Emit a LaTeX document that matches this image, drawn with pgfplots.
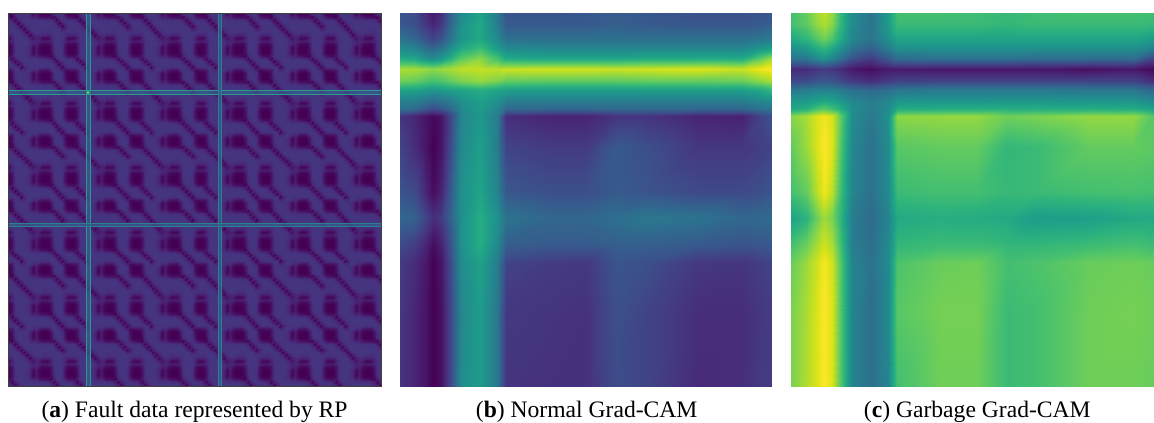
\documentclass[border=0pt]{standalone}
\usepackage{fontspec}
\setmainfont{Liberation Serif}
\usepackage{pgfplots}
\usepackage{pgfplotstable}
\pgfplotsset{compat=1.18}
\pgfplotstableread[row sep=\\,header=false]{
0\\.11\\.17\\.19\\.19\\.19\\.18\\.18\\.18\\.18\\.19\\.19\\.19\\.10\\.12\\.18\\.18\\.18\\.19\\.19\\.17\\.11\\0\\
.11\\0\\.11\\.17\\.19\\.19\\.17\\.17\\.17\\.18\\.19\\.19\\.19\\.19\\.17\\.17\\.17\\.17\\.18\\.19\\.19\\.17\\.11\\
.17\\.11\\0\\.11\\.15\\.15\\.12\\.12\\.12\\.15\\.19\\.19\\.19\\.18\\.15\\.12\\.12\\.12\\.15\\.19\\.19\\.19\\.17\\
.19\\.17\\.11\\.05\\.12\\.10\\.02\\.02\\.02\\.11\\.18\\.19\\.19\\.18\\.11\\.02\\.02\\.02\\.11\\.18\\.19\\.19\\.19\\
.19\\.19\\.15\\.12\\.13\\.12\\.09\\.09\\.09\\.13\\.18\\.19\\.19\\.18\\.13\\.09\\.09\\.09\\.13\\.18\\.19\\.19\\.19\\
.19\\.19\\.15\\.10\\.12\\.05\\.02\\.02\\.02\\.06\\.18\\.19\\.19\\.18\\.06\\.02\\.02\\.02\\.06\\.18\\.19\\.19\\.19\\
.18\\.17\\.12\\.02\\.09\\.02\\0\\0\\0\\.05\\.17\\.19\\.19\\.17\\.05\\0\\0\\0\\.05\\.17\\.19\\.19\\.18\\
.18\\.17\\.12\\.02\\.09\\.02\\0\\0\\0\\.05\\.17\\.19\\.19\\.17\\.05\\0\\0\\0\\.05\\.17\\.19\\.19\\.18\\
.18\\.17\\.12\\.02\\.09\\.02\\0\\0\\0\\.03\\.15\\.19\\.19\\.17\\.05\\0\\0\\0\\.05\\.17\\.19\\.19\\.18\\
.18\\.18\\.15\\.11\\.13\\.08\\.05\\.05\\.03\\0\\.11\\.17\\.19\\.18\\.12\\.05\\.05\\.03\\.08\\.17\\.19\\.19\\.18\\
.19\\.19\\.19\\.18\\.18\\.18\\.17\\.17\\.15\\.11\\0\\.11\\.17\\.19\\.18\\.17\\.17\\.11\\0\\.11\\.17\\.19\\.19\\
.19\\.19\\.19\\.19\\.19\\.19\\.19\\.19\\.19\\.17\\.11\\0\\.11\\.17\\.19\\.19\\.19\\.17\\.11\\0\\.11\\.17\\.19\\
.19\\.19\\.19\\.19\\.19\\.19\\.19\\.19\\.19\\.19\\.17\\.11\\0\\.11\\.17\\.19\\.19\\.19\\.17\\.11\\0\\.11\\.17\\
.11\\.17\\.19\\.18\\.18\\.18\\.17\\.17\\.17\\.19\\.19\\.17\\.11\\0\\.11\\.17\\.17\\.17\\.18\\.19\\.17\\0\\.11\\
.14\\.19\\.18\\.13\\.15\\.08\\.05\\.05\\.05\\.15\\.19\\.19\\.17\\.11\\.03\\.03\\.05\\.05\\.08\\.18\\.19\\.14\\.14\\
.18\\.17\\.12\\.02\\.09\\.02\\0\\0\\0\\.05\\.17\\.19\\.19\\.17\\.03\\0\\0\\0\\.05\\.17\\.19\\.19\\.18\\
.18\\.17\\.12\\.02\\.09\\.02\\0\\0\\0\\.05\\.17\\.19\\.19\\.17\\.05\\0\\0\\0\\.05\\.17\\.19\\.19\\.18\\
.18\\.17\\.12\\.02\\.09\\.02\\0\\0\\0\\.03\\.15\\.19\\.19\\.17\\.05\\0\\0\\0\\.03\\.15\\.19\\.19\\.18\\
.18\\.18\\.15\\.11\\.13\\.08\\.05\\.05\\.05\\.03\\0\\.11\\.17\\.18\\.12\\.05\\.05\\.03\\0\\.11\\.17\\.19\\.18\\
.19\\.19\\.19\\.18\\.18\\.18\\.17\\.17\\.17\\.17\\.11\\0\\.11\\.17\\.18\\.17\\.17\\.17\\.11\\0\\.11\\.17\\.19\\
.19\\.19\\.19\\.19\\.19\\.19\\.19\\.19\\.19\\.19\\.17\\.11\\0\\.11\\.17\\.19\\.19\\.19\\.17\\.11\\0\\.11\\.17\\
.11\\.17\\.19\\.19\\.19\\.19\\.19\\.19\\.19\\.19\\.19\\.17\\.11\\0\\.11\\.17\\.19\\.19\\.19\\.17\\.11\\0\\.11\\
0\\.11\\.17\\.19\\.19\\.19\\.18\\.18\\.18\\.18\\.19\\.19\\.19\\.10\\.12\\.18\\.18\\.18\\.19\\.19\\.17\\.11\\0\\
}\tileA
\pgfplotstableread[row sep=\\,header=false]{
.27\\.23\\.12\\.07\\.13\\.30\\.48\\.58\\.40\\.26\\.26\\.27\\.29\\.27\\.25\\.25\\.26\\.27\\
.27\\.24\\.15\\.10\\.16\\.32\\.50\\.60\\.42\\.28\\.28\\.28\\.30\\.28\\.27\\.27\\.28\\.30\\
.38\\.33\\.25\\.20\\.26\\.38\\.52\\.60\\.48\\.37\\.37\\.37\\.37\\.37\\.37\\.37\\.40\\.42\\
.48\\.44\\.36\\.33\\.38\\.48\\.60\\.68\\.55\\.47\\.46\\.46\\.46\\.46\\.46\\.46\\.52\\.56\\
.60\\.58\\.50\\.47\\.52\\.62\\.74\\.82\\.70\\.60\\.58\\.58\\.58\\.60\\.60\\.60\\.75\\.85\\
.87\\.87\\.85\\.83\\.85\\.87\\.90\\.91\\.90\\.92\\.93\\.93\\.92\\.93\\.95\\.92\\.98\\1\\
.78\\.76\\.72\\.70\\.72\\.76\\.80\\.84\\.80\\.76\\.75\\.75\\.75\\.76\\.76\\.77\\.83\\.88\\
.58\\.57\\.54\\.53\\.54\\.56\\.58\\.62\\.58\\.56\\.55\\.55\\.55\\.56\\.56\\.56\\.60\\.66\\
.43\\.42\\.38\\.35\\.38\\.42\\.50\\.56\\.50\\.42\\.42\\.42\\.42\\.42\\.42\\.42\\.46\\.48\\
.37\\.33\\.26\\.22\\.26\\.33\\.47\\.55\\.45\\.33\\.32\\.32\\.33\\.33\\.32\\.32\\.37\\.38\\
.15\\.10\\.05\\.02\\.05\\.20\\.45\\.53\\.42\\.13\\.10\\.10\\.15\\.15\\.10\\.09\\.20\\.25\\
.20\\.12\\.05\\0\\.05\\.22\\.47\\.56\\.42\\.20\\.17\\.17\\.28\\.24\\.16\\.16\\.18\\.20\\
.26\\.22\\.10\\.03\\.09\\.27\\.50\\.58\\.45\\.27\\.24\\.24\\.28\\.26\\.22\\.22\\.24\\.26\\
.33\\.30\\.20\\.13\\.17\\.30\\.50\\.62\\.50\\.38\\.33\\.33\\.36\\.40\\.38\\.33\\.34\\.35\\
.22\\.18\\.10\\.03\\.09\\.25\\.50\\.62\\.47\\.30\\.28\\.28\\.30\\.30\\.28\\.26\\.27\\.28\\
.17\\.12\\.06\\0\\.05\\.22\\.48\\.57\\.42\\.20\\.17\\.16\\.26\\.24\\.16\\.15\\.18\\.20\\
.16\\.10\\.05\\0\\.04\\.20\\.46\\.55\\.40\\.16\\.15\\.14\\.24\\.20\\.13\\.13\\.16\\.17\\
.15\\.10\\.05\\0\\.04\\.20\\.48\\.55\\.40\\.15\\.14\\.14\\.23\\.20\\.12\\.13\\.17\\.17\\
}\tabB
\pgfplotstableread[row sep=\\,header=false]{
.70\\.76\\.86\\.90\\.84\\.66\\.48\\.38\\.55\\.70\\.70\\.69\\.67\\.69\\.70\\.70\\.69\\.68\\
.70\\.75\\.84\\.88\\.82\\.65\\.48\\.38\\.54\\.68\\.68\\.68\\.66\\.68\\.68\\.68\\.67\\.65\\
.60\\.65\\.73\\.78\\.72\\.60\\.46\\.38\\.50\\.58\\.58\\.58\\.58\\.58\\.58\\.58\\.55\\.53\\
.50\\.54\\.62\\.66\\.60\\.50\\.38\\.30\\.42\\.50\\.50\\.50\\.50\\.50\\.50\\.50\\.44\\.40\\
.38\\.40\\.48\\.52\\.46\\.37\\.25\\.18\\.28\\.36\\.38\\.38\\.38\\.36\\.36\\.36\\.22\\.14\\
.12\\.12\\.15\\.17\\.15\\.12\\.06\\.03\\.07\\.07\\.06\\.06\\.06\\.06\\.04\\.06\\.02\\0\\
.22\\.23\\.26\\.27\\.26\\.22\\.17\\.13\\.17\\.20\\.20\\.20\\.20\\.20\\.20\\.20\\.13\\.10\\
.40\\.42\\.44\\.45\\.44\\.41\\.37\\.34\\.37\\.40\\.41\\.41\\.41\\.41\\.40\\.40\\.34\\.30\\
.53\\.54\\.57\\.60\\.57\\.53\\.46\\.42\\.46\\.52\\.52\\.52\\.53\\.53\\.52\\.52\\.48\\.46\\
.60\\.64\\.72\\.75\\.70\\.62\\.48\\.42\\.48\\.62\\.63\\.63\\.63\\.63\\.63\\.62\\.58\\.56\\
.82\\.87\\.95\\.98\\.94\\.74\\.48\\.40\\.50\\.83\\.84\\.84\\.78\\.80\\.84\\.84\\.74\\.70\\
.76\\.85\\.95\\1\\.95\\.72\\.46\\.37\\.48\\.74\\.76\\.76\\.66\\.68\\.76\\.76\\.75\\.74\\
.70\\.76\\.90\\.98\\.90\\.68\\.45\\.37\\.47\\.68\\.70\\.70\\.67\\.68\\.70\\.71\\.70\\.68\\
.58\\.64\\.78\\.86\\.80\\.64\\.42\\.35\\.45\\.60\\.62\\.61\\.60\\.55\\.56\\.60\\.60\\.60\\
.70\\.77\\.87\\.93\\.87\\.68\\.42\\.36\\.47\\.66\\.68\\.68\\.66\\.66\\.68\\.70\\.68\\.68\\
.77\\.85\\.93\\.99\\.93\\.72\\.45\\.37\\.47\\.72\\.77\\.78\\.70\\.72\\.77\\.78\\.77\\.76\\
.80\\.87\\.95\\1\\.95\\.72\\.45\\.36\\.47\\.74\\.79\\.79\\.68\\.70\\.78\\.79\\.78\\.78\\
.80\\.88\\.95\\1\\.95\\.72\\.45\\.36\\.45\\.70\\.78\\.78\\.68\\.70\\.78\\.78\\.77\\.77\\
}\tabC
\def\rowof#1#2{\numexpr(2*#1-(#2-1))/(2*#2)\relax}
\def\colof#1#2{\numexpr #1-#2*\rowof{#1}{#2}\relax}
\def\xnode#1{\ifcase#1 0\or .04\or .07\or .09\or .11\or .135\or .165\or .215\or .26\or .285\or .4\or .5\or .58\or .66\or .8\or .92\or .97\or 1\fi}
\def\ynode#1{\ifcase#1 0\or .03\or .07\or .095\or .12\or .15\or .182\or .207\or .237\or .258\or .275\or .36\or .48\or .55\or .62\or .67\or .8\or 1\fi}
\pgfplotstablecreatecol[create col/assign/.code={\edef\v{\the\colof{\pgfplotstablerow}{23}}\pgfkeyslet{/pgfplots/table/create col/next content}\v}]{xi}\tileA
\pgfplotstablecreatecol[create col/assign/.code={\edef\v{\the\rowof{\pgfplotstablerow}{23}}\pgfkeyslet{/pgfplots/table/create col/next content}\v}]{yi}\tileA
\newcommand\addxy[1]{%
\pgfplotstablecreatecol[create col/assign/.code={\edef\v{\xnode{\colof{\pgfplotstablerow}{18}}}\pgfkeyslet{/pgfplots/table/create col/next content}\v}]{xn}#1%
\pgfplotstablecreatecol[create col/assign/.code={\edef\v{\ynode{\rowof{\pgfplotstablerow}{18}}}\pgfkeyslet{/pgfplots/table/create col/next content}\v}]{yn}#1%
}
\addxy\tabB
\addxy\tabC
\definecolor{lteal}{HTML}{2A9A90}
\definecolor{lblue}{HTML}{33628D}
\definecolor{lfaint}{HTML}{2C7F8E}
\definecolor{lgreen}{HTML}{5EC962}
\pgfplotsset{panel/.style={scale only axis,view={0}{90},y dir=reverse,
  colormap/viridis,point meta min=0,point meta max=1,anchor=south west},
  panela/.style={panel,at={(6pt,27pt)},width=279.75pt,height=279.75pt,
  xmin=0,xmax=373,ymin=0,ymax=373}}
\newcommand\tilecolumn[1]{%
 \begin{axis}[panela,hide axis,point meta max=1.25]
 \pgfplotsinvokeforeach{-1,...,5}{%
  \addplot3[surf,shader=interp,mesh/cols=23,point meta=z]
   table[y index=1,x index=2,z index=0,
         x expr={14.67+64.67*#1+(\thisrow{xi}+0.5)*2.9395},
         y expr={14.67+64.67*##1+(\thisrow{yi}+0.5)*2.9395}] {\tileA};
 }%
 \end{axis}%
}
\newcommand\captxt[1]{\fontsize{17.7}{20}\selectfont #1}
\begin{document}
\begin{tikzpicture}
\path[use as bounding box] (0,0) rectangle (865.5pt,316.5pt);
\tilecolumn{-1}\tilecolumn{0}\tilecolumn{1}\tilecolumn{2}\tilecolumn{3}\tilecolumn{4}\tilecolumn{5}
\begin{axis}[panela,ticks=none,
  axis line style={draw=black!75,line width=0.5pt}]
\addplot3[lblue,line width=3.6pt,opacity=.7] coordinates {(80,0,1)(80,373,1)};
\addplot3[lteal,line width=.6pt] coordinates {(78,0,1)(78,373,1)};
\addplot3[lteal,line width=.6pt] coordinates {(82,0,1)(82,373,1)};
\addplot3[lblue,line width=3.6pt,opacity=.7] coordinates {(0,79.7,1)(373,79.7,1)};
\addplot3[lteal,line width=.6pt] coordinates {(0,77.7,1)(373,77.7,1)};
\addplot3[lteal,line width=.6pt] coordinates {(0,81.7,1)(373,81.7,1)};
\addplot3[lblue,line width=2.6pt,opacity=.7] coordinates {(212,0,1)(212,373,1)};
\addplot3[lfaint,line width=.5pt] coordinates {(210.6,0,1)(210.6,373,1)};
\addplot3[lfaint,line width=.5pt] coordinates {(213.4,0,1)(213.4,373,1)};
\addplot3[lblue,line width=2.6pt,opacity=.7] coordinates {(0,212,1)(373,212,1)};
\addplot3[lfaint,line width=.5pt] coordinates {(0,210.6,1)(373,210.6,1)};
\addplot3[lfaint,line width=.5pt] coordinates {(0,213.4,1)(373,213.4,1)};
\addplot3[only marks,mark=*,mark size=1pt,lgreen] coordinates {(80,79.7,1)};
\end{axis}
\begin{axis}[panel,at={(300pt,27pt)},width=279pt,height=279.75pt,
  xmin=0,xmax=1,ymin=0,ymax=1,hide axis]
\addplot3[surf,shader=interp,mesh/cols=18,point meta=z]
  table[x=xn,y=yn,z index=0] {\tabB};
\end{axis}
\begin{axis}[panel,at={(593.25pt,27pt)},width=272.25pt,height=279.75pt,
  xmin=0,xmax=0.976,ymin=0,ymax=1,hide axis]
\addplot3[surf,shader=interp,mesh/cols=18,point meta=z]
  table[x=xn,y=yn,z index=0] {\tabC};
\end{axis}
\path (145.9pt,3.75pt) node[anchor=base,inner sep=0pt]{\captxt{(\textbf{a}) Fault data represented by RP}};
\path (440pt,3.75pt) node[anchor=base,inner sep=0pt]{\captxt{(\textbf{b}) Normal Grad-CAM}};
\path (733pt,3.75pt) node[anchor=base,inner sep=0pt]{\captxt{(\textbf{c}) Garbage Grad-CAM}};
\end{tikzpicture}
\end{document}
